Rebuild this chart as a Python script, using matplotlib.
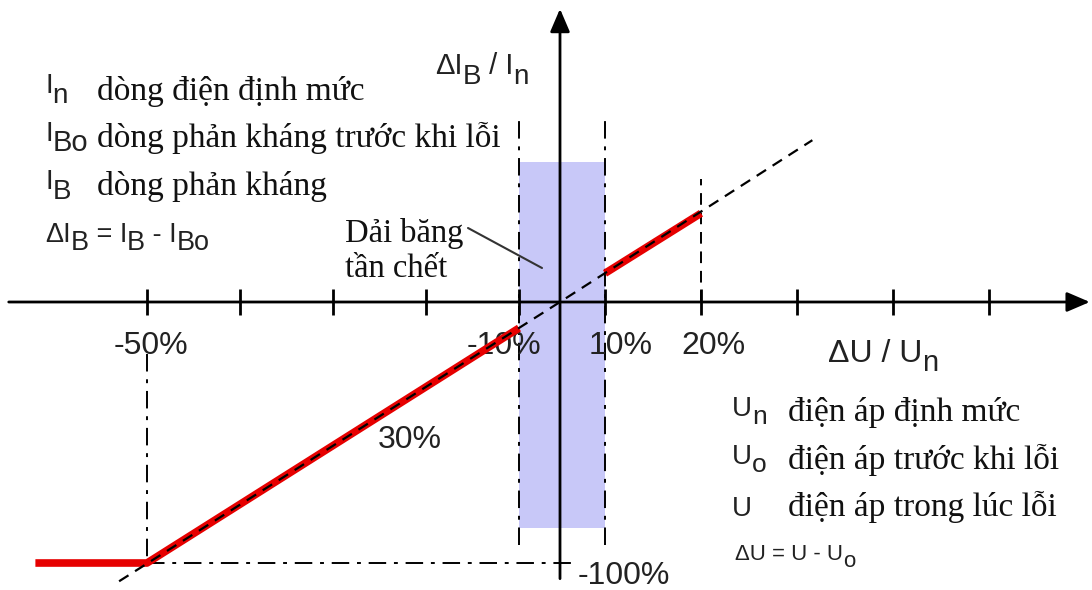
import numpy as np
import matplotlib
matplotlib.use("Agg")
import matplotlib.pyplot as plt

SANS = "Liberation Sans"
SERIF = "Liberation Serif"

# --- values (percent) -------------------------------------------------------
tick_pos = [-50, -40, -30, -20, -10, 10, 20, 30, 40, 50]
tick_labels = {-50: "-50%", -10: "-10%", 10: "10%", 20: "20%"}

band_u = [-10, 10]            # dead band on dU/Un
band_v = [-86.6, 53.6]        # height of the shaded band
band_mark_v = [-93, 70]       # extent of the dash-dot band limits

# reactive current characteristic (red)
char_low_u = [-62, -50, -10]
char_low_v = [-100, -100, -10]
char_high_u = [10, 20]
char_high_v = [11, 34]

# straight reference line through the origin (black dashed)
ref_u = [-53, 0, 31.6]
ref_v = [-107, 0, 62]

sat_u = -50          # saturation point
sat_v = -100
mark20_u = 20
mark20_v = 47
floor_end_u = 3
gain_label_u, gain_label_v = -21.7, -53


# compressed scale inside the dead band, px per percent outside
def fwd(u):
    u = np.asarray(u, float)
    return np.where(u < -10, -41 + (u + 10) * 9.3,
           np.where(u < 0, u * 4.1,
           np.where(u <= 10, u * 4.5, 45 + (u - 10) * 9.6)))


def inv(p):
    p = np.asarray(p, float)
    return np.where(p < -41, -10 + (p + 41) / 9.3,
           np.where(p < 0, p / 4.1,
           np.where(p <= 45, p / 4.5, 10 + (p - 45) / 9.6)))


W, H = 1092, 590
fig = plt.figure(figsize=(W / 100, H / 100), dpi=100)
ax = fig.add_axes([0, 0, 1, 1])
ax.set_xscale("function", functions=(fwd, inv))
ax.set_xlim(float(inv(-560)), float(inv(532)))
ax.set_ylim(-288 / 2.61, 302 / 2.61)
ax.axis("off")

dashdot = (0, (9, 4, 2, 4))

# dead band
ax.fill_between(band_u, band_v[0], band_v[1], color="#c8c8f8", lw=0, zorder=1)
for u in band_u:
    ax.plot([u, u], band_mark_v, color="black", lw=1.4, linestyle=dashdot, zorder=3)

# helper lines
ax.plot([sat_u, sat_u], [-20, sat_v], color="black", lw=1.4, linestyle=dashdot, zorder=3)
ax.plot([sat_u, floor_end_u], [sat_v, sat_v], color="black", lw=1.4, linestyle=dashdot, zorder=3)
ax.plot([mark20_u, mark20_u], [0, mark20_v], color="black", lw=1.4, linestyle=(0, (6, 4)), zorder=3)

# characteristic
ax.plot(char_low_u, char_low_v, color="#e60000", lw=5.5, solid_capstyle="butt", zorder=4)
ax.plot(char_high_u, char_high_v, color="#e60000", lw=5.5, solid_capstyle="butt", zorder=4)
ax.plot(ref_u, ref_v, color="black", lw=1.6, linestyle=(0, (5, 3.5)), zorder=5)

# axes with arrows
arrow = dict(arrowstyle="-|>,head_length=0.7,head_width=0.3", lw=2, color="black",
             mutation_scale=20, shrinkA=0, shrinkB=0)
ax.annotate("", xy=(0.998, 0), xytext=(0.008, 0),
            xycoords=("axes fraction", "data"), arrowprops=arrow, zorder=6)
ax.annotate("", xy=(0, 0.985), xytext=(0, -106),
            xycoords=("data", "axes fraction"), textcoords="data", arrowprops=arrow, zorder=6)
ax.plot(tick_pos, np.zeros(len(tick_pos)), linestyle="none", marker="|",
        markersize=19, mew=2, color="black", zorder=6)

# tick labels
lab_shift = {-50: 3, -10: -11, 10: 11, 20: 9}
for u, s in tick_labels.items():
    ax.annotate(s, xy=(u, 0), xytext=(lab_shift[u], -32), textcoords="offset points",
                ha="center", va="center", fontsize=23, family=SANS, color="#222222")
ax.annotate("-100%", xy=(0, sat_v), xytext=(13, -9), textcoords="offset points",
            ha="left", va="center", fontsize=23, family=SANS, color="#222222")
ax.text(gain_label_u, gain_label_v, "30%", ha="center", va="center",
        fontsize=23, family=SANS, color="#222222")


def fx(x):
    return x / W


def fy(y):
    return 1 - y / H


# symbol with subscripts; each piece is chained to the right of the previous one
def sym(x, y, pieces, size, sub_size, sub_drop=7):
    prev = None
    prev_drop = 0
    for s, sub in pieces:
        fs = sub_size if sub else size
        drop = sub_drop if sub else 0
        if prev is None:
            prev = ax.annotate(s, xy=(fx(x), fy(y)), xycoords="figure fraction",
                               xytext=(0, -drop), textcoords="offset points",
                               fontsize=fs, family=SANS, color="#222222",
                               ha="left", va="baseline")
        else:
            prev = ax.annotate(s, xy=(1, 0), xycoords=prev,
                               xytext=(0, prev_drop - drop), textcoords="offset points",
                               fontsize=fs, family=SANS, color="#222222",
                               ha="left", va="bottom")
        prev_drop = drop
    return prev


def serif(x, y, s, size):
    fig.text(fx(x), fy(y), s, fontsize=size, family=SERIF, color="#111111",
             ha="left", va="baseline")


# legend, currents
sym(45, 93, [("I", False), ("n", True)], 20, 20, 7)
serif(97, 100, "dòng điện định mức", 24)
sym(45, 141, [("I", False), ("Bo", True)], 20, 21, 7)
serif(97, 147, "dòng phản kháng trước khi lỗi", 24)
sym(45, 189, [("I", False), ("B", True)], 20, 20, 7)
serif(97, 195, "dòng phản kháng", 24)
sym(45, 242, [("ΔI", False), ("B", True), (" = I", False), ("B", True),
              (" - I", False), ("Bo", True)], 19.5, 19.5, 6)

# legend, voltages
sym(732, 416, [("U", False), ("n", True)], 20, 19, 5)
serif(788, 421, "điện áp định mức", 24)
sym(732, 464, [("U", False), ("o", True)], 20, 19, 5)
serif(788, 469, "điện áp trước khi lỗi", 24)
sym(732, 516, [("U", False)], 20, 19)
serif(788, 516, "điện áp trong lúc lỗi", 24)
sym(735, 560, [("ΔU = U - U", False), ("o", True)], 16, 16, 5)

# axis titles
sym(435, 74, [("ΔI", False), ("B", True), (" / I", False), ("n", True)], 21, 20, 7)
sym(828, 362, [("ΔU / U", False), ("n", True)], 23, 21, 6)

# dead band label
serif(345, 242, "Dải băng", 23.5)
serif(345, 277, "tần chết", 23.5)
ax.annotate("", xy=(float(inv(542 - 560)), (302 - 268) / 2.61),
            xytext=(float(inv(468 - 560)), (302 - 228) / 2.61),
            arrowprops=dict(arrowstyle="-", lw=1.5, color="#333333",
                            shrinkA=0, shrinkB=0))

fig.savefig("out.png", dpi=100)
